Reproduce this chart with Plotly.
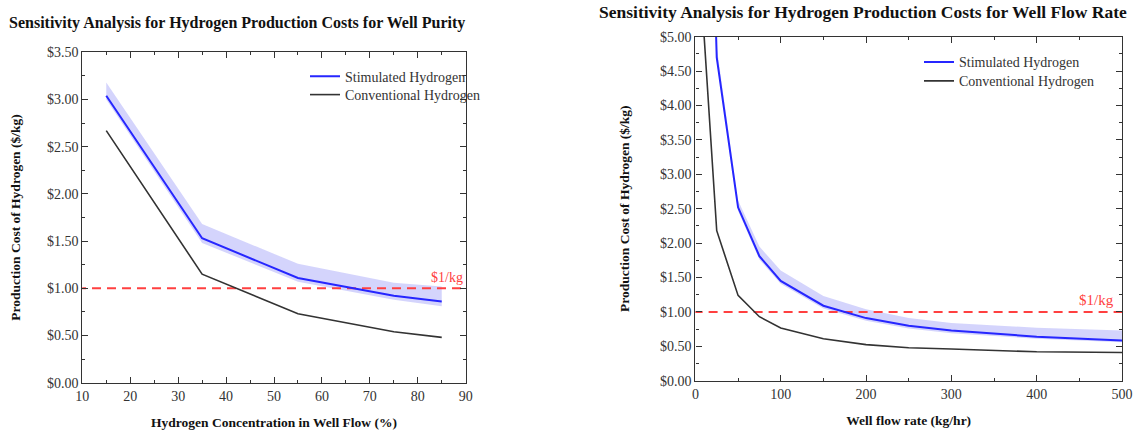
import plotly.graph_objects as go

W, H = 1133, 430

# ---- Data: Well Purity ----
purity = [15, 35, 55, 75, 85]
purity_stim = [3.04, 1.53, 1.11, 0.92, 0.86]
purity_stim_hi = [3.18, 1.68, 1.26, 1.06, 1.02]
purity_stim_lo = [3.00, 1.48, 1.07, 0.88, 0.81]
purity_conv = [2.67, 1.15, 0.73, 0.54, 0.48]

# ---- Data: Well Flow Rate ----
flow = [10, 25, 50, 75, 100, 150, 200, 250, 300, 400, 500]
flow_stim = [11.0, 4.70, 2.52, 1.81, 1.45, 1.09, 0.91, 0.80, 0.73, 0.64, 0.585]
flow_stim_hi = [11.3, 4.85, 2.62, 1.95, 1.60, 1.23, 1.04, 0.91, 0.84, 0.77, 0.73]
flow_stim_lo = [10.8, 4.65, 2.47, 1.76, 1.41, 1.05, 0.87, 0.76, 0.69, 0.61, 0.56]
flow_conv = [5.05, 2.18, 1.24, 0.93, 0.765, 0.61, 0.525, 0.48, 0.46, 0.42, 0.41]

target = 1.0

BLUE = "#2626ff"
DARK = "#333333"
BAND = "rgba(60,60,240,0.22)"
RED = "#ff4040"
FONT = "Liberation Serif"

fig = go.Figure()


def add_panel(x, stim, hi, lo, conv, xa, ya, leg_a, leg_b):
    fig.add_trace(go.Scatter(x=x + x[::-1], y=hi + lo[::-1], fill="toself",
                             fillcolor=BAND, line=dict(width=0), mode="lines",
                             showlegend=False, hoverinfo="skip", xaxis=xa, yaxis=ya))
    fig.add_trace(go.Scatter(x=[x[0] - 100, x[-1] + 100], y=[target, target], mode="lines",
                             line=dict(color=RED, width=2, dash="9px,6px"),
                             showlegend=False, hoverinfo="skip", xaxis=xa, yaxis=ya))
    fig.add_trace(go.Scatter(x=x, y=stim, mode="lines", name="Stimulated Hydrogen",
                             line=dict(color=BLUE, width=2), xaxis=xa, yaxis=ya,
                             legend=leg_a))
    fig.add_trace(go.Scatter(x=x, y=conv, mode="lines", name="Conventional Hydrogen",
                             line=dict(color=DARK, width=1.6), xaxis=xa, yaxis=ya,
                             legend=leg_b))


add_panel(purity, purity_stim, purity_stim_hi, purity_stim_lo, purity_conv,
          "x", "y", "legend", "legend2")
add_panel(flow, flow_stim, flow_stim_hi, flow_stim_lo, flow_conv,
          "x2", "y2", "legend3", "legend4")

axis_common = dict(
    showline=True, linecolor=DARK, linewidth=1.2, mirror="ticks",
    ticks="inside", ticklen=6, tickwidth=1.2, tickcolor=DARK,
    showgrid=False, zeroline=False, automargin=False,
    tickfont=dict(family=FONT, size=14, color=DARK),
)
title_font = dict(family=FONT, size=13.5, color="#111")


def leg(xpx, ypx):
    return dict(x=xpx / W, y=1 - ypx / H, xanchor="left", yanchor="top",
                bgcolor="rgba(0,0,0,0)", font=dict(family=FONT, size=14, color=DARK),
                tracegroupgap=0)


fig.update_layout(
    width=W, height=H,
    margin=dict(l=0, r=0, t=0, b=0),
    paper_bgcolor="white", plot_bgcolor="white",
    xaxis=dict(domain=[82.3 / W, 465.7 / W], range=[10, 90], dtick=10, tick0=10,
               minor=dict(dtick=5, ticks="inside", ticklen=3, tickcolor=DARK),
               anchor="y",
               title=dict(text="<b>Hydrogen Concentration in Well Flow (%)</b>",
                          font=title_font, standoff=14),
               **axis_common),
    yaxis=dict(domain=[1 - 382.7 / H, 1 - 52.3 / H], range=[0, 3.5], dtick=0.5,
               tickprefix="$", tickformat=".2f", anchor="x",
               minor=dict(dtick=0.25, ticks="inside", ticklen=3, tickcolor=DARK),
               title=dict(text="<b>Production Cost of Hydrogen ($/kg)</b>",
                          font=title_font, standoff=23),
               **axis_common),
    xaxis2=dict(domain=[695.4 / W, 1122 / W], range=[0, 500], dtick=100,
                minor=dict(dtick=50, ticks="inside", ticklen=3, tickcolor=DARK),
                anchor="y2",
                title=dict(text="<b>Well flow rate (kg/hr)</b>",
                           font=title_font, standoff=14),
                **axis_common),
    yaxis2=dict(domain=[1 - 380.7 / H, 1 - 36.7 / H], range=[0, 5], dtick=0.5,
                tickprefix="$", tickformat=".2f", anchor="x2",
                minor=dict(dtick=0.25, ticks="inside", ticklen=3, tickcolor=DARK),
                title=dict(text="<b>Production Cost of Hydrogen ($/kg)</b>",
                           font=title_font, standoff=27),
                **axis_common),
    legend=leg(305, 60.7),
    legend2=leg(305, 79),
    legend3=leg(919, 46.3),
    legend4=leg(919, 65.3),
    annotations=[
        dict(text="<b>Sensitivity Analysis for Hydrogen Production Costs for Well Purity</b>",
             x=236.5 / W, y=1 - 23 / H, xref="paper", yref="paper", showarrow=False,
             xanchor="center", yanchor="middle", font=dict(family=FONT, size=16, color="#111")),
        dict(text="<b>Sensitivity Analysis for Hydrogen Production Costs for Well Flow Rate</b>",
             x=863 / W, y=1 - 11.6 / H, xref="paper", yref="paper", showarrow=False,
             xanchor="center", yanchor="middle", font=dict(family=FONT, size=17.5, color="#111")),
        dict(text="$1/kg", x=86, y=target, xref="x", yref="y", showarrow=False,
             xanchor="center", yanchor="bottom", yshift=1,
             font=dict(family=FONT, size=14, color=RED)),
        dict(text="$1/kg", x=470, y=target, xref="x2", yref="y2", showarrow=False,
             xanchor="center", yanchor="bottom", yshift=2,
             font=dict(family=FONT, size=15, color=RED)),
    ],
)

fig.write_html("out.html")
